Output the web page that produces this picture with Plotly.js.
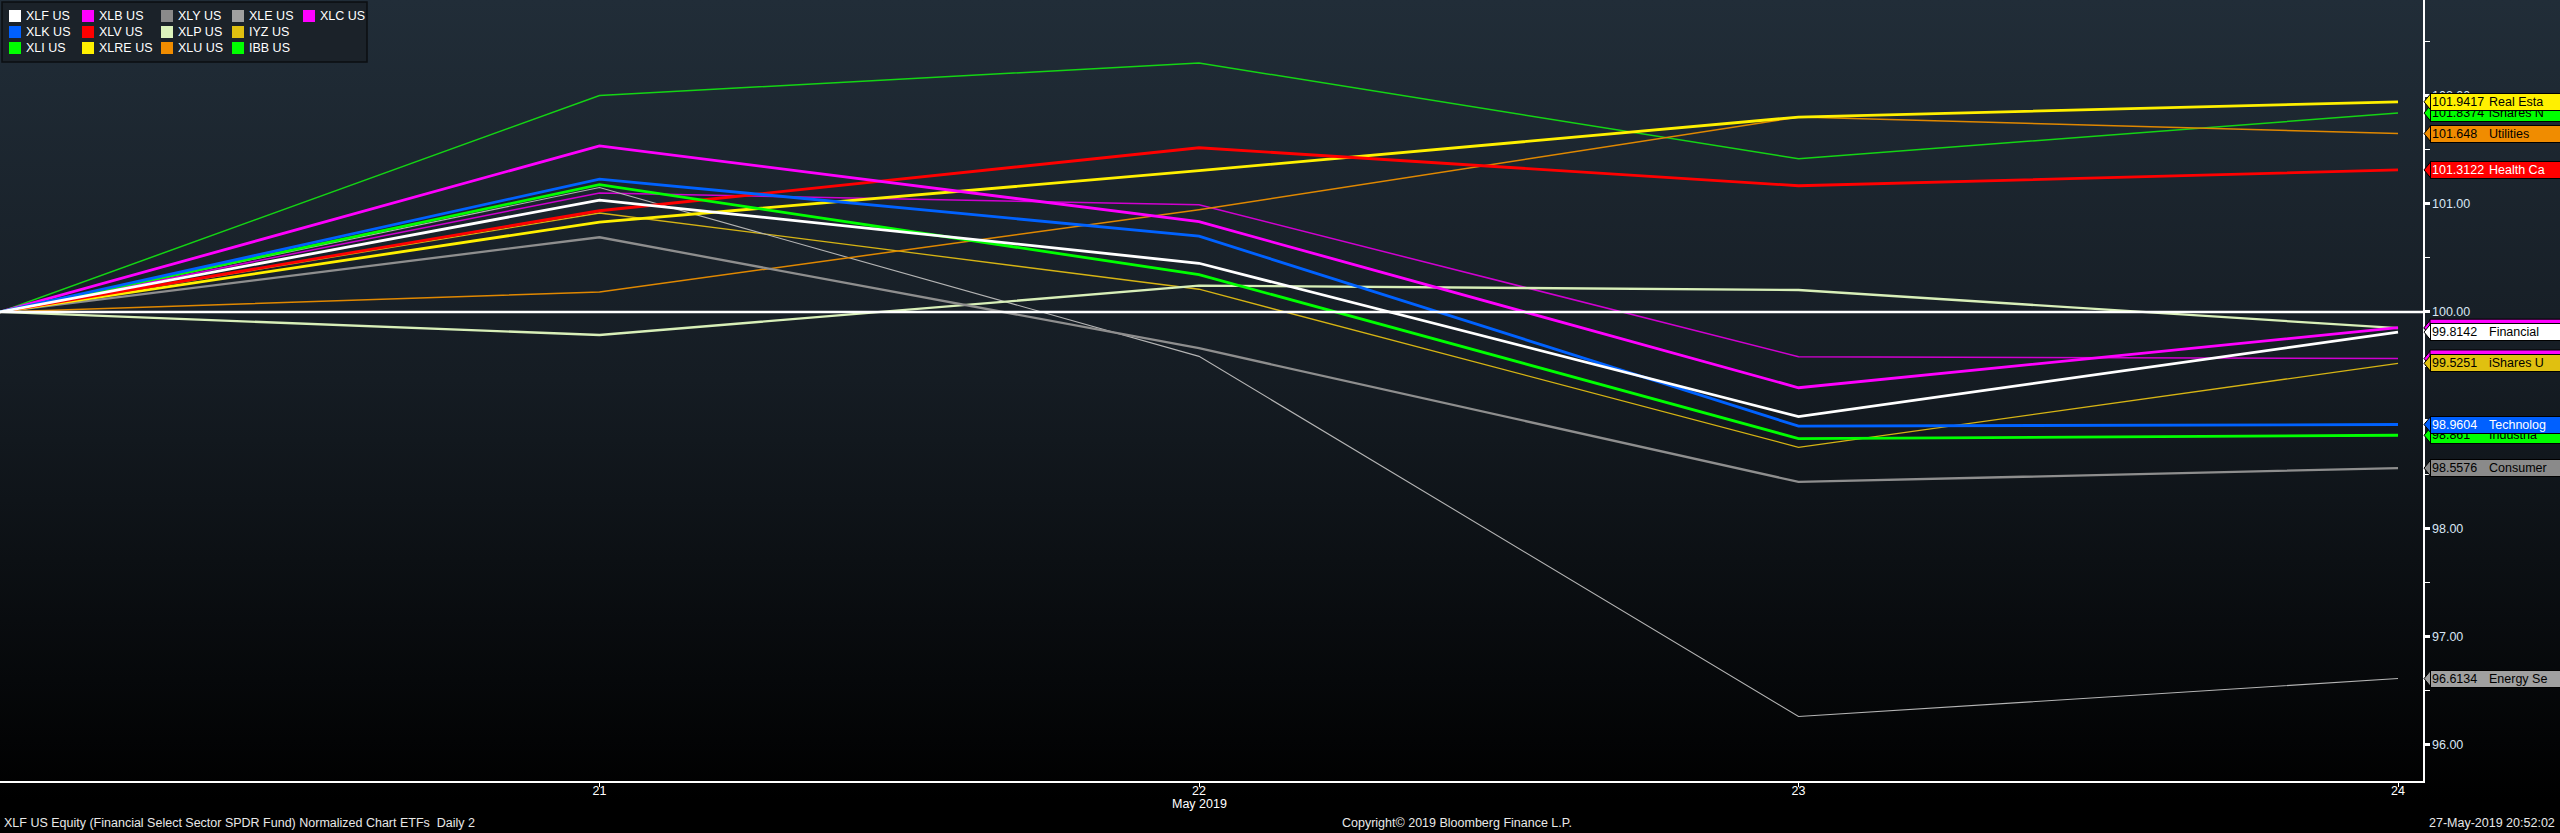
<!DOCTYPE html>
<html>
<head>
<meta charset="utf-8">
<script src="https://cdn.plot.ly/plotly-3.0.1.min.js"></script>
<style>
html,body{margin:0;padding:0;background:#000;}
#wrap{width:2560px;height:833px;background:linear-gradient(to bottom,#212d38 0px,#151c23 380px,#000 800px,#000 833px);}
#chart{width:2560px;height:833px;}
</style>
</head>
<body>
<div id="wrap"><div id="chart"></div></div>
<script>
// ---------------- DATA ----------------
const dates = ['2019-05-20', '2019-05-21', '2019-05-22', '2019-05-23', '2019-05-24'];
const dayLabels = ['21', '22', '23', '24'];
const monthLabel = 'May 2019';
const base = 100;

const tickers = ['XLF US', 'XLK US', 'XLI US', 'XLB US', 'XLV US', 'XLRE US', 'XLY US', 'XLP US', 'XLU US', 'XLE US', 'IYZ US', 'IBB US', 'XLC US'];
const tagNames = ['Financial', 'Technolog', 'Industria', 'Materials', 'Health Ca', 'Real Esta', 'Consumer', 'Consumer', 'Utilities', 'Energy Se', 'iShares U', 'iShares N', 'Communica'];

const XLF  = [100, 101.034, 100.45, 99.033, 99.8142];
const XLK  = [100, 101.228, 100.70, 98.945, 98.9604];
const XLI  = [100, 101.176, 100.345, 98.83, 98.861];
const XLB  = [100, 101.535, 100.834, 99.30, 99.855];
const XLV  = [100, 100.935, 101.517, 101.166, 101.3122];
const XLRE = [100, 100.83, 101.305, 101.80, 101.9417];
const XLY  = [100, 100.69, 99.665, 98.43, 98.5576];
const XLP  = [100, 99.787, 100.243, 100.203, 99.85];
const XLU  = [100, 100.185, 100.945, 101.80, 101.648];
const XLE  = [100, 101.15, 99.59, 96.263, 96.6134];
const IYZ  = [100, 100.914, 100.21, 98.75, 99.5251];
const IBB  = [100, 102.0, 102.30, 101.415, 101.8374];
const XLC  = [100, 101.10, 100.99, 99.587, 99.57];

const seriesValues = [XLF, XLK, XLI, XLB, XLV, XLRE, XLY, XLP, XLU, XLE, IYZ, IBB, XLC];

const footerLeft = 'XLF US Equity (Financial Select Sector SPDR Fund) Normalized Chart ETFs\u00a0\u00a0Daily 2';
const footerMid = 'Copyright\u00a9 2019 Bloomberg Finance L.P.';
const footerRight = '27-May-2019 20:52:02';

// ---------------- STYLE ----------------
const legendColors = ['#ffffff', '#0060ff', '#00ff00', '#ff00ff', '#ff0000', '#fff000', '#8a8a8a', '#dcf3bc', '#f08c00', '#a0a0a0', '#e0c010', '#00ff00', '#ff00ff'];
const lineColors   = ['#ffffff', '#0062ff', '#00ff00', '#ff00ff', '#ff0000', '#fff000', '#8e8e8e', '#d8efb8', '#e08800', '#b4b4b4', '#d6b414', '#14d414', '#d000d0'];
const lineWidths   = [2.8, 2.8, 2.8, 2.8, 2.8, 2.8, 2.3, 2.3, 1.5, 1.1, 1.3, 1.5, 1.5];
const tagText      = ['#000', '#fff', '#000', '#000', '#fff', '#000', '#000', '#000', '#000', '#000', '#000', '#000', '#000'];
// tags fully covered by others in the picture: drawn as bare colour boxes
const coveredTags  = ['XLB US', 'XLP US', 'XLC US'];
const FONT = 'Liberation Sans, Arial, sans-serif';

const W = 2423, H = 781;
const yRange = [95.667, 102.882];
const px2x = p => p / W;
const py2y = p => 1 - p / H;
const fmt = v => String(parseFloat(v.toFixed(4)));

// traces drawn in reverse legend order so XLF is on top
const traces = [];
for (let i = tickers.length - 1; i >= 0; i--) {
  traces.push({
    type: 'scatter', mode: 'lines', name: tickers[i],
    x: dates, y: seriesValues[i],
    line: {color: lineColors[i], width: lineWidths[i]},
    hoverinfo: 'skip'
  });
}

const shapes = [];
const annotations = [];

// baseline
shapes.push({type: 'line', xref: 'paper', yref: 'y', x0: 0, x1: 1, y0: base, y1: base,
  line: {color: '#ffffff', width: 2.5}, layer: 'above'});

// legend box
shapes.push({type: 'rect', xref: 'paper', yref: 'paper', x0: px2x(2), x1: px2x(367), y0: py2y(2), y1: py2y(62),
  fillcolor: '#1b2229', line: {color: '#0b0e11', width: 1.5}, layer: 'above'});
const colX = [9, 82, 161, 232, 303];
const rowY = [16, 32, 48];
for (let i = 0; i < tickers.length; i++) {
  const c = Math.floor(i / 3), r = i % 3;
  const cx = colX[c], cy = rowY[r];
  shapes.push({type: 'rect', xref: 'paper', yref: 'paper',
    x0: px2x(cx), x1: px2x(cx + 12), y0: py2y(cy - 6), y1: py2y(cy + 6),
    fillcolor: legendColors[i], line: {width: 0}, layer: 'above'});
  annotations.push({xref: 'paper', yref: 'paper', x: px2x(cx + 15), y: py2y(cy), xanchor: 'left', yanchor: 'middle',
    text: tickers[i], showarrow: false, font: {family: FONT, size: 12.5, color: '#ffffff'}});
}

// value tags (reverse legend order: XLF on top)
const hh = (yRange[1] - yRange[0]) / H * 8.5;
for (let i = tickers.length - 1; i >= 0; i--) {
  const v = seriesValues[i][seriesValues[i].length - 1];
  shapes.push({type: 'path', xref: 'paper', yref: 'y',
    path: `M ${px2x(2424)},${v} L ${px2x(2431)},${v + hh} L ${px2x(2431)},${v - hh} Z`,
    fillcolor: legendColors[i], line: {color: '#000', width: 1}, layer: 'above'});
  if (coveredTags.includes(tickers[i])) {
    shapes.push({type: 'rect', xref: 'paper', yref: 'y', x0: px2x(2430), x1: px2x(2575), y0: v - hh, y1: v + hh,
      fillcolor: legendColors[i], line: {color: '#000', width: 1}, layer: 'above'});
    continue;
  }
  annotations.push({xref: 'paper', yref: 'y', x: px2x(2430), y: v, xanchor: 'left', yanchor: 'middle',
    text: fmt(v), showarrow: false, align: 'left', width: 140, height: 14,
    bgcolor: legendColors[i], bordercolor: '#000', borderwidth: 1, borderpad: 1,
    font: {family: FONT, size: 12.5, color: tagText[i]}});
  annotations.push({xref: 'paper', yref: 'y', x: px2x(2487), y: v, xanchor: 'left', yanchor: 'middle',
    text: tagNames[i], showarrow: false,
    font: {family: FONT, size: 12.5, color: tagText[i]}});
}

// month label and footers
annotations.push({xref: 'x', yref: 'paper', x: dates[2], y: 0, yshift: -23, xanchor: 'center', yanchor: 'middle',
  text: monthLabel, showarrow: false, font: {family: FONT, size: 12.5, color: '#ffffff'}});
annotations.push({xref: 'paper', yref: 'paper', x: px2x(2), y: 0, yshift: -42, xanchor: 'left', yanchor: 'middle',
  text: footerLeft, showarrow: false, font: {family: FONT, size: 12.5, color: '#e8e8e8'}});
annotations.push({xref: 'paper', yref: 'paper', x: px2x(1457), y: 0, yshift: -42, xanchor: 'center', yanchor: 'middle',
  text: footerMid, showarrow: false, font: {family: FONT, size: 12.5, color: '#e8e8e8'}});
annotations.push({xref: 'paper', yref: 'paper', x: px2x(2557), y: 0, yshift: -42, xanchor: 'right', yanchor: 'middle',
  text: footerRight, showarrow: false, font: {family: FONT, size: 12.5, color: '#e8e8e8'}});

const layout = {
  width: 2560, height: 833,
  margin: {l: 0, r: 137, t: 0, b: 52, pad: 0},
  paper_bgcolor: 'rgba(0,0,0,0)', plot_bgcolor: 'rgba(0,0,0,0)',
  showlegend: false,
  font: {family: FONT, size: 12.5, color: '#ffffff'},
  xaxis: {
    type: 'date', range: ['2019-05-20 00:00', '2019-05-24 01:00'],
    tickmode: 'array', tickvals: dates.slice(1), ticktext: dayLabels,
    ticks: 'outside', ticklen: 4, tickwidth: 1, tickcolor: '#ffffff',
    ticklabelstandoff: -7,
    showgrid: false, zeroline: false, showline: true, linecolor: '#ffffff', linewidth: 1.5,
    tickfont: {family: FONT, size: 12.5, color: '#ffffff'}
  },
  yaxis: {
    side: 'right', range: yRange,
    tickmode: 'linear', tick0: 96, dtick: 1, tickformat: '.2f',
    ticks: 'outside', ticklen: 5, tickwidth: 3, tickcolor: '#ffffff',
    minor: {dtick: 0.5, tick0: 95.5, ticks: 'outside', ticklen: 5, tickwidth: 1, tickcolor: '#ffffff'},
    showgrid: false, zeroline: false, showline: true, linecolor: '#ffffff', linewidth: 1.5,
    tickfont: {family: FONT, size: 12.5, color: '#d8e6f4'}
  },
  shapes: shapes,
  annotations: annotations
};

Plotly.newPlot('chart', traces, layout, {staticPlot: true, displayModeBar: false});
</script>
</body>
</html>
